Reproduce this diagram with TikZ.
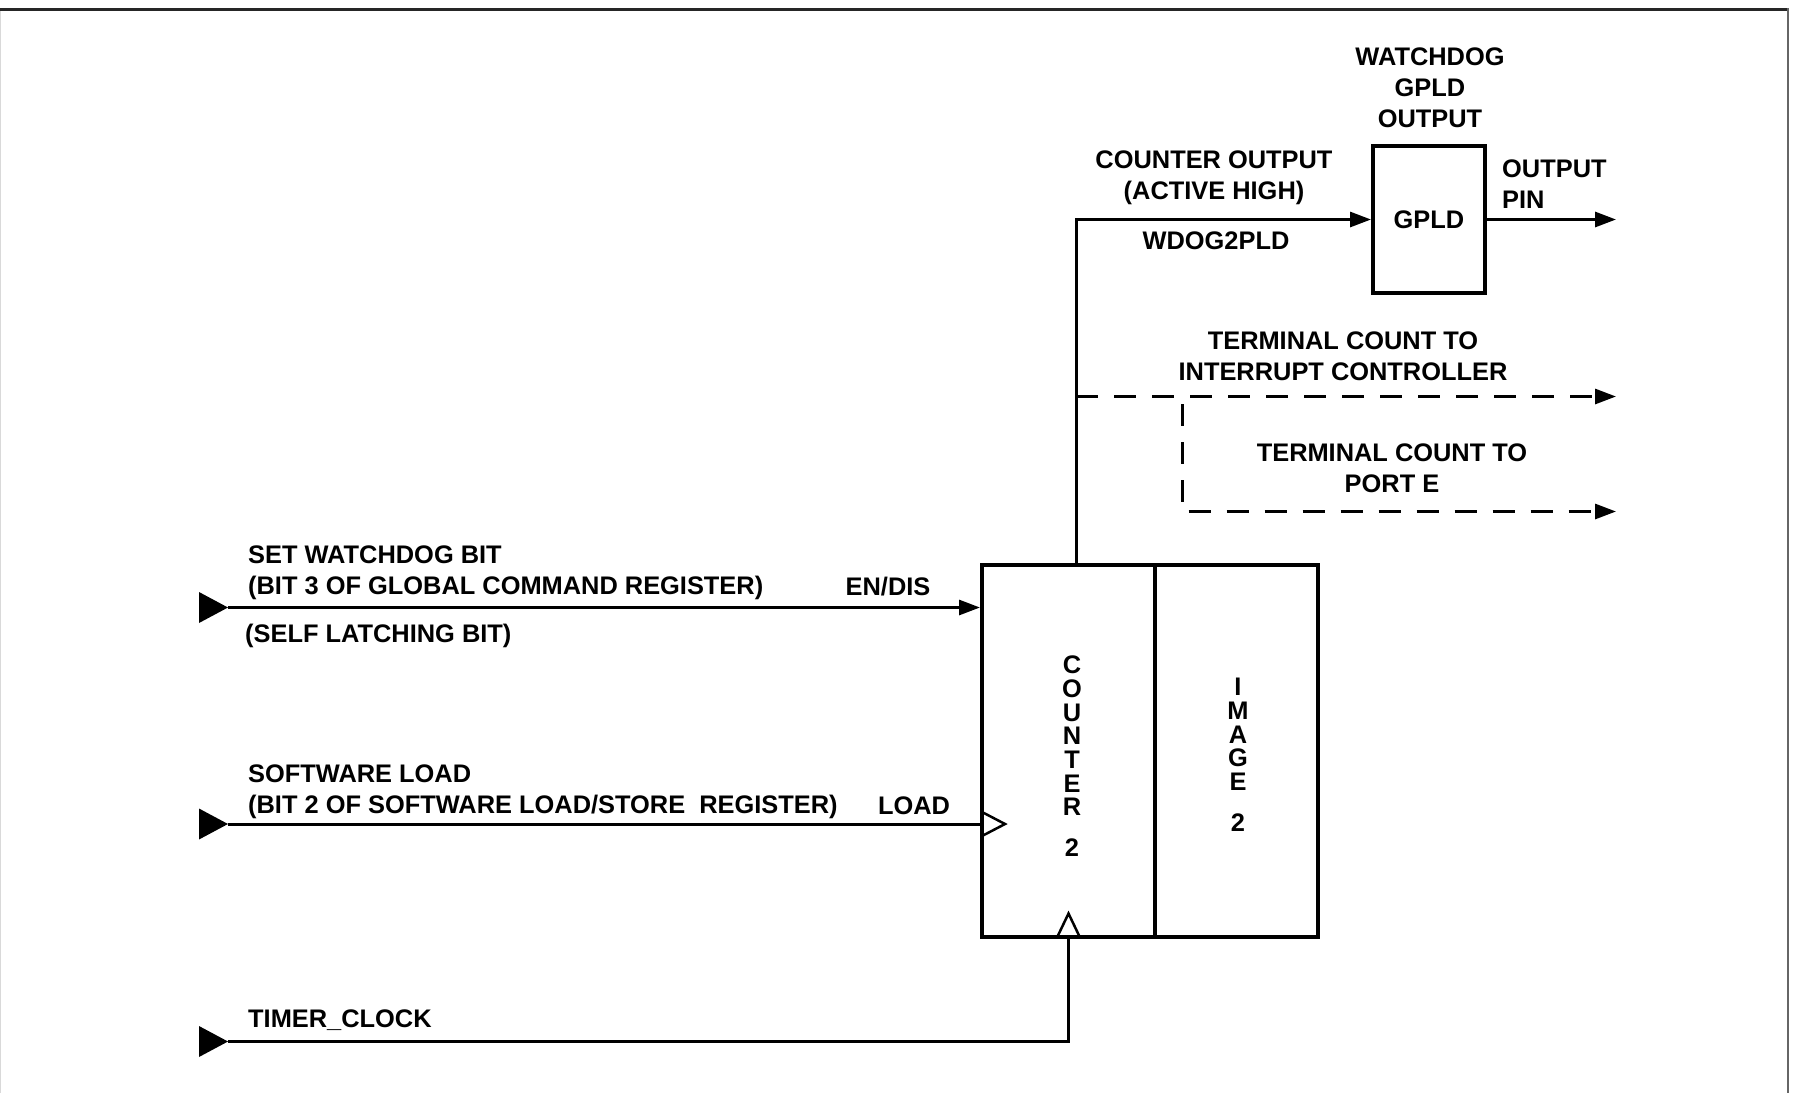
\documentclass[tikz,border=0pt]{standalone}
\usepackage{fontspec}
\setmainfont{Liberation Sans}
\usetikzlibrary{arrows.meta,calc}

\newcommand{\sigfont}{\fontsize{25.4}{31}\selectfont\bfseries}
\newcommand{\stackfont}{\fontsize{25.4}{23.7}\selectfont\bfseries}

\begin{document}
\begin{tikzpicture}[x=1pt,y=-1pt,>={Triangle[length=21pt,width=15pt]},
  lbl/.style={font=\sigfont,inner sep=0pt,align=center},
  sig/.style={line width=3pt},
  tcline/.style={sig,dash pattern=on 22pt off 16pt},
  blk/.style={draw,line width=4pt,inner sep=0pt}]
  \useasboundingbox (0,0) rectangle (1794,1093);
  % frame
  \draw[line width=3pt,black!85] (0,9.5) -- (1789,9.5);
  \draw[line width=2pt,black!60] (1788,8) -- (1788,1093);
  \draw[line width=1pt,black!15] (0.5,11) -- (0.5,1093);
  % blocks
  \node[blk,minimum width=173pt,minimum height=372pt] (cnt) at (1068.5,750.5) {};
  \node[blk,minimum width=163pt,minimum height=372pt] (img) at (1236.5,750.5) {};
  \node[font=\stackfont,align=center,inner sep=0pt] (cntlbl) at (1072,756.5) {C\\O\\U\\N\\T\\E\\R\\[17.3pt]2};
  \node[font=\stackfont,align=center,inner sep=0pt] (imglbl) at (1238,755) {I\\M\\A\\G\\E\\[17.3pt]2};
  \node[blk,lbl,minimum width=112pt,minimum height=147pt] (gpld) at (1429,219.5) {GPLD};
  % labels
  \node[lbl] (wdtitle) at (1430,88) {WATCHDOG\\GPLD\\OUTPUT};
  \node[lbl] (coname) at (1214,178) {COUNTER OUTPUT\\(ACTIVE HIGH)};
  \node[lbl,anchor=base] (wdog) at (1216,249) {WDOG2PLD};
  \node[lbl,anchor=west,align=left] (pin) at (1502,184) {OUTPUT\\PIN};
  \node[lbl] (tcint) at (1343,356.5) {TERMINAL COUNT TO\\INTERRUPT CONTROLLER};
  \node[lbl] (tcport) at (1392,468.5) {TERMINAL COUNT TO\\PORT E};
  \node[lbl,anchor=west,align=left] (setwd) at (248,573) {SET WATCHDOG BIT\\(BIT 3 OF GLOBAL COMMAND REGISTER)};
  \node[lbl,anchor=base] (endis) at (888,595) {EN/DIS};
  \node[lbl,anchor=base west] (latch) at (245,642) {(SELF LATCHING BIT)};
  \node[lbl,anchor=west,align=left] (swload) at (248,791.5) {SOFTWARE LOAD\\(BIT 2 OF SOFTWARE LOAD/STORE~~REGISTER)};
  \node[lbl,anchor=base] (loadlbl) at (914,814) {LOAD};
  \node[lbl,anchor=base west] (tclk) at (248,1027) {TIMER\_CLOCK};
  % pins
  \coordinate (in1) at (228,607.5);
  \coordinate (in2) at (228,824);
  \coordinate (in3) at (228,1041.5);
  \coordinate (cotop) at ([xshift=7.5pt]cnt.north);
  \coordinate (outpin) at (1616,219.5);
  \coordinate (tc1) at (1616,396.5);
  \coordinate (tc2) at (1616,511.5);
  \coordinate (tcbr) at (1182,404);
  % signals
  \draw[sig,->] (in1) -- (in1 -| cnt.west);
  \draw[sig] (in2) -- (in2 -| cnt.west);
  \draw[sig] (in3) -| (cnt.south);
  \draw[sig,->] (cotop) |- (gpld.west);
  \draw[sig,->] (gpld.east) -- (outpin);
  \draw[tcline,->] (cotop |- tc1) -- (tc1);
  \draw[tcline,->] (tcbr) |- (tc2);
  \foreach \p in {in1,in2,in3}
    \fill ($(\p)+(-29,-15.5)$) -- (\p) -- ($(\p)+(-29,15.5)$) -- cycle;
  \draw[line width=2.5pt] ($(in2 -| cnt.west)+(2,-12)$) -- ++(23,12) -- ++(-23,12);
  \draw[line width=2.5pt] ($(cnt.south)+(-11,-2)$) -- ++(11,-23) -- ++(11,23);
\end{tikzpicture}
\end{document}
